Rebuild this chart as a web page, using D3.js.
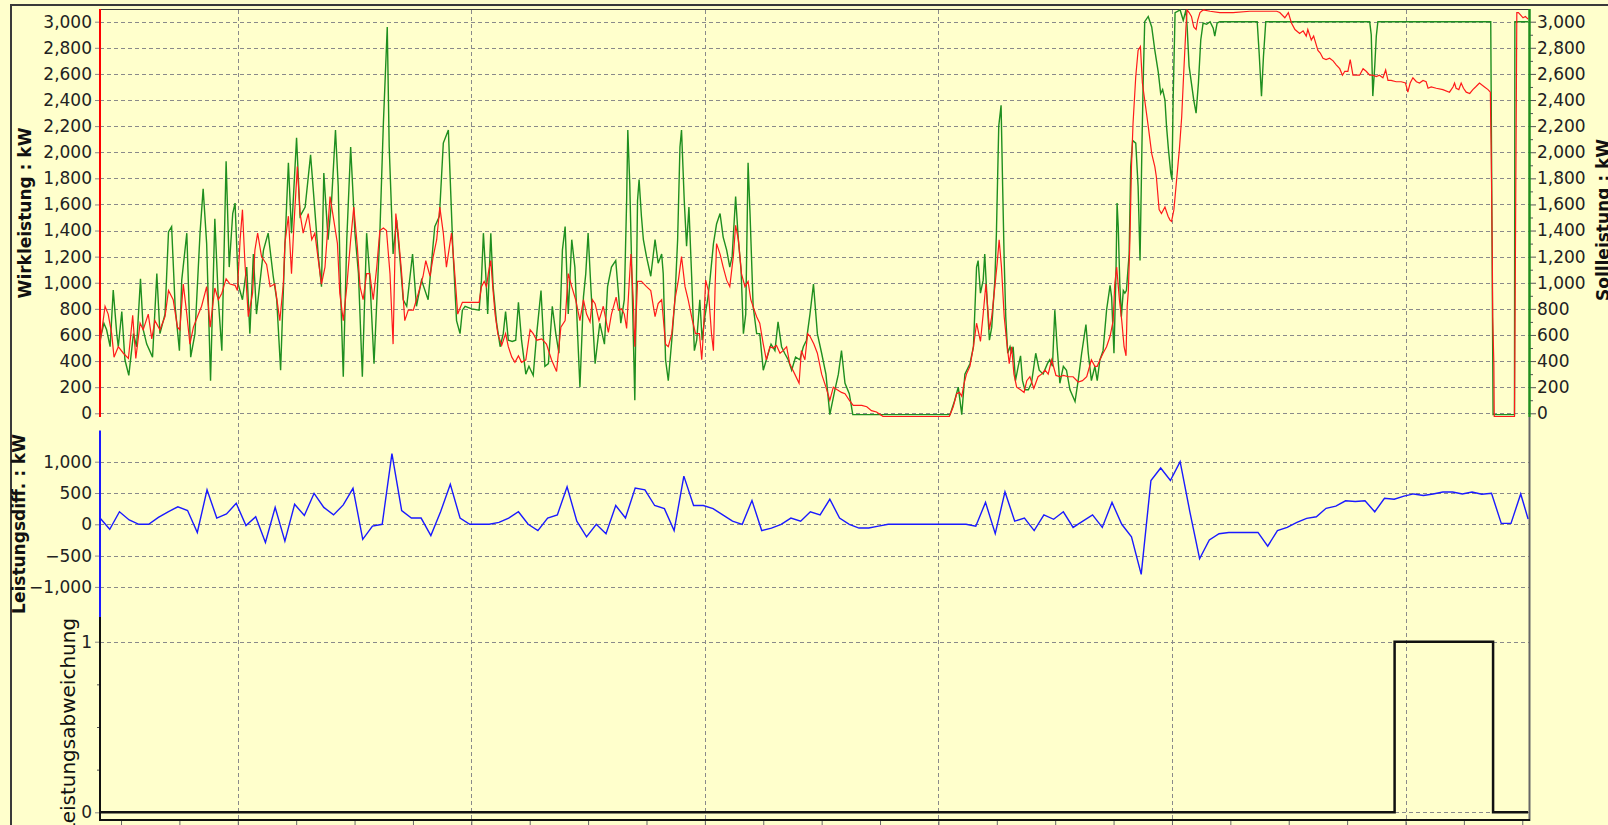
<!DOCTYPE html>
<html>
<head>
<meta charset="utf-8">
<script src="https://cdn.jsdelivr.net/npm/d3@7"></script>
<style>
    html, body { margin: 0; padding: 0; background: #FFFFCC; overflow: hidden; }
    svg { display: block; }
</style>
</head>
<body>
<div id="chart"></div>
<script>
/*** DATEN - Zeit in Minuten ab 08:24:36 ***/

// Sollleistung (gruen), kW
var sollT = [0, 1.0, 1.7, 2.6, 3.4, 4.3, 4.7, 5.6, 6.4, 7.4, 8.6, 9.4, 10.4, 11.1, 12.0, 13.5, 14.6, 15.4, 16.7, 17.6, 18.4, 19.3, 20.4, 21.0, 22.3, 23.3, 24.4, 25.7, 26.5, 27.4, 28.4, 29.5, 30.4, 31.3, 32.4, 33.2, 34.1, 34.7, 35.5, 36.6, 37.7, 38.5, 39.4, 40.2, 42.0, 43.2, 44.5, 45.4, 46.4, 47.5, 48.4, 49.2, 50.5, 51.4, 52.7, 54.1, 54.8, 56.1, 56.9, 57.5, 58.6, 59.5, 60.5, 61.2, 61.8, 62.5, 63.4, 64.4, 65.5, 66.4, 67.4, 68.5, 69.3, 70.4, 71.9, 72.8, 73.8, 74.3, 75.3, 76.2, 77.1, 77.9, 78.8, 80.3, 81.3, 82.6, 84.3, 86.0, 87.2, 88.2, 89.5, 90.6, 91.6, 92.5, 93.1, 93.8, 95.5, 97.4, 98.0, 98.5, 99.1, 99.6, 100.4, 101.0, 101.9, 102.8, 103.6, 104.2, 104.9, 105.9, 106.8, 107.5, 108.3, 109.4, 110.2, 111.3, 112.2, 113.3, 114.3, 115.2, 116.2, 117.1, 117.9, 118.8, 119.5, 120.3, 121.2, 122.0, 122.7, 123.3, 124.2, 124.8, 125.4, 126.1, 127.2, 128.4, 129.6, 130.4, 131.4, 132.5, 133.2, 133.8, 134.7, 135.3, 135.6, 136.1, 136.7, 137.4, 138.1, 138.5, 139.1, 139.6, 140.4, 141.5, 142.6, 143.4, 144.3, 144.7, 145.3, 146.0, 146.9, 147.7, 148.4, 149.0, 149.4, 150.1, 150.7, 151.3, 152.0, 152.7, 153.3, 154.1, 154.7, 155.4, 156.1, 156.7, 157.6, 158.4, 159.3, 160.1, 161.0, 161.8, 162.4, 163.3, 164.0, 164.7, 165.3, 165.9, 166.5, 167.0, 167.8, 168.7, 169.5, 170.4, 171.2, 172.4, 173.4, 174.2, 175.1, 175.9, 176.8, 177.7, 178.7, 179.8, 180.7, 181.5, 182.4, 183.3, 184.3, 185.4, 186.5, 187.5, 188.8, 189.7, 190.5, 191.4, 192.5, 193.4, 218.4, 219.6, 220.5, 221.4, 222.2, 223.5, 224.4, 225.2, 225.6, 226.2, 226.9, 227.3, 227.9, 228.5, 229.1, 229.9, 230.3, 230.9, 231.5, 231.9, 232.3, 232.7, 233.2, 233.8, 234.2, 234.6, 235.2, 235.9, 236.5, 237.0, 237.6, 238.5, 239.3, 240.4, 241.3, 242.3, 243.4, 244.0, 244.7, 245.3, 245.9, 246.6, 247.5, 248.3, 249.2, 250.5, 251.3, 252.2, 253.3, 253.9, 254.7, 255.6, 256.2, 256.9, 257.7, 258.6, 259.5, 259.9, 260.5, 261.0, 261.3, 261.6, 262.0, 262.4, 262.9, 263.3, 263.7, 264.4, 264.8, 265.3, 266.1, 266.7, 267.2, 267.7, 268.0, 268.4, 269.3, 270.2, 271.0, 271.9, 272.5, 273.0, 273.6, 274.0, 274.5, 275.1, 275.4, 275.7, 276.2, 277.5, 278.3, 279.0, 279.3, 279.8, 280.4, 281.0, 281.6, 282.2, 282.8, 283.4, 284.3, 285.2, 286.0, 286.4, 287.0, 287.7, 297.3, 297.8, 298.4, 298.9, 299.5, 326.2, 326.6, 327.0, 327.5, 327.9, 328.3, 357.3, 357.9, 363.4, 363.5, 366.9];
var sollV = [560, 690, 640, 510, 945, 610, 510, 780, 410, 290, 610, 510, 1030, 640, 530, 430, 1070, 610, 760, 1390, 1430, 820, 480, 1020, 1380, 430, 610, 1380, 1720, 1300, 250, 1490, 870, 480, 1930, 1120, 1530, 1610, 990, 870, 1120, 610, 1220, 760, 1250, 1380, 1050, 870, 330, 1280, 1920, 1380, 2110, 1510, 1580, 1980, 1710, 1200, 970, 1840, 1330, 1630, 2170, 1740, 940, 280, 1330, 2040, 1380, 1070, 280, 1380, 1050, 380, 1380, 2220, 2960, 2040, 1220, 1480, 1170, 870, 820, 1220, 820, 1020, 870, 1430, 1510, 2070, 2170, 1300, 710, 610, 790, 820, 800, 790, 1020, 1380, 1070, 760, 1380, 970, 690, 510, 610, 780, 560, 550, 560, 850, 560, 300, 360, 290, 610, 940, 360, 380, 820, 610, 460, 1250, 1430, 760, 1330, 1120, 610, 200, 890, 1070, 1380, 970, 380, 690, 530, 970, 1120, 1170, 920, 690, 870, 1630, 2170, 1760, 990, 100, 1630, 1790, 1510, 1330, 1200, 1050, 1330, 1150, 1220, 1070, 410, 250, 560, 870, 1330, 2040, 2170, 1630, 1280, 1580, 1050, 480, 560, 870, 560, 740, 870, 1020, 1300, 1450, 1530, 1350, 1250, 1120, 1200, 1660, 1330, 1100, 610, 760, 1920, 1530, 820, 610, 610, 330, 410, 530, 480, 700, 510, 460, 410, 330, 430, 410, 510, 560, 760, 990, 610, 460, 300, -10, 180, 300, 480, 230, 150, -10, -10, 100, 200, -10, 300, 380, 510, 1120, 1170, 920, 1020, 1220, 870, 560, 660, 1020, 1380, 2200, 2360, 1740, 1170, 740, 460, 510, 460, 510, 250, 360, 440, 250, 180, 180, 230, 460, 330, 300, 380, 410, 360, 790, 510, 230, 360, 330, 180, 90, 250, 460, 680, 460, 250, 360, 250, 410, 480, 790, 980, 890, 460, 1050, 1610, 1430, 990, 740, 940, 920, 940, 1220, 1890, 2090, 2070, 1740, 1170, 2070, 2530, 3000, 3040, 2960, 2780, 2610, 2450, 2480, 2400, 2200, 2020, 1840, 1790, 2400, 3070, 3090, 3010, 3090, 2960, 2660, 2530, 2400, 2300, 2530, 2860, 2990, 2980, 3000, 2950, 2890, 2990, 3000, 3000, 2760, 2430, 2730, 3000, 3000, 2900, 2430, 2660, 2890, 3000, 3000, -10, -10, 3000, 3000];

// Wirkleistung (rot), kW
var wirkT = [0, 1.3, 2.1, 3.0, 3.6, 4.7, 6.0, 7.3, 8.4, 9.2, 10.3, 11.1, 12.4, 13.3, 14.1, 15.4, 16.7, 17.6, 18.8, 19.9, 20.5, 21.4, 22.3, 23.1, 24.0, 25.3, 26.1, 27.4, 28.3, 29.5, 30.4, 31.3, 32.4, 33.4, 34.7, 35.3, 36.0, 36.6, 37.2, 38.1, 39.2, 39.8, 40.5, 41.5, 42.8, 43.7, 44.9, 46.2, 47.1, 47.5, 48.4, 49.2, 49.8, 50.7, 51.4, 52.2, 53.5, 54.4, 55.2, 56.1, 56.9, 57.8, 59.1, 59.9, 61.0, 61.6, 62.5, 63.4, 64.4, 65.2, 66.1, 66.8, 67.6, 68.5, 69.3, 70.2, 71.1, 71.9, 72.8, 73.6, 74.5, 75.3, 76.0, 76.6, 77.5, 78.3, 79.2, 80.5, 81.8, 83.0, 83.7, 84.8, 85.6, 86.5, 87.3, 88.2, 89.0, 90.3, 91.2, 91.9, 93.1, 95.5, 97.4, 98.0, 98.7, 99.3, 99.8, 100.4, 100.9, 101.5, 102.2, 103.2, 104.2, 104.9, 105.8, 106.6, 107.5, 108.3, 109.4, 110.5, 111.3, 112.2, 113.5, 114.7, 116.0, 117.3, 118.4, 119.5, 120.3, 121.2, 122.2, 123.3, 124.2, 125.0, 125.9, 126.5, 127.2, 128.2, 129.3, 130.6, 131.4, 132.6, 133.2, 134.0, 134.7, 135.3, 135.9, 136.4, 137.0, 137.4, 138.1, 139.1, 140.4, 141.5, 142.6, 143.4, 144.3, 145.3, 146.0, 146.9, 147.7, 148.6, 149.4, 150.3, 151.1, 152.2, 153.0, 154.0, 154.6, 155.0, 155.6, 156.3, 157.1, 157.6, 158.0, 158.4, 159.3, 160.1, 161.0, 161.8, 162.7, 163.3, 164.0, 164.8, 165.7, 166.5, 167.2, 168.1, 168.7, 169.5, 170.4, 171.2, 172.1, 172.9, 173.8, 174.7, 175.5, 176.4, 177.2, 178.5, 179.6, 180.2, 181.1, 181.8, 182.4, 183.4, 184.3, 185.4, 186.5, 187.5, 188.4, 189.4, 190.5, 191.4, 192.5, 193.5, 195.7, 197.0, 198.2, 199.5, 201.2, 218.2, 219.2, 220.1, 220.8, 221.4, 222.0, 222.6, 223.5, 224.4, 225.2, 226.2, 226.9, 227.6, 228.5, 229.1, 229.9, 230.5, 231.0, 231.6, 232.3, 232.9, 233.6, 234.2, 234.8, 235.5, 236.5, 237.4, 238.1, 238.9, 239.9, 241.0, 241.9, 242.8, 243.6, 244.5, 245.6, 246.6, 247.5, 248.8, 250.0, 251.3, 252.4, 253.5, 254.7, 255.6, 256.2, 256.9, 257.7, 258.6, 259.5, 260.3, 260.7, 261.2, 261.9, 262.5, 263.1, 263.6, 263.9, 264.2, 264.6, 265.0, 265.4, 266.1, 266.7, 267.3, 267.8, 268.4, 269.3, 270.2, 271.0, 271.4, 272.1, 272.7, 273.6, 274.4, 274.9, 275.3, 275.9, 276.6, 277.3, 277.9, 278.3, 278.7, 279.0, 279.3, 279.8, 280.4, 281.0, 281.6, 282.0, 282.6, 283.4, 285.2, 287.7, 291.1, 295.4, 299.7, 302.3, 303.1, 304.4, 305.3, 306.1, 307.0, 308.2, 309.1, 309.9, 310.3, 311.2, 311.8, 312.3, 312.9, 313.5, 314.2, 315.0, 315.9, 316.8, 317.6, 318.5, 319.2, 319.8, 320.6, 321.2, 321.9, 322.8, 323.6, 324.5, 325.3, 326.2, 327.0, 327.9, 328.7, 329.6, 330.3, 330.9, 331.7, 333.0, 334.3, 335.4, 336.0, 336.6, 337.3, 338.2, 339.0, 339.9, 340.7, 341.2, 342.0, 343.3, 345.0, 346.7, 347.6, 348.0, 348.4, 349.1, 349.7, 350.3, 351.0, 351.9, 352.7, 353.4, 354.4, 355.7, 356.6, 357.2, 357.3, 357.4, 357.7, 357.8, 358.1, 358.2, 363.4, 363.5, 363.7, 364.0, 364.4, 365.0, 365.6, 366.2, 366.9];
var wirkV = [530, 820, 760, 610, 430, 510, 460, 420, 750, 420, 690, 640, 760, 570, 710, 640, 740, 940, 870, 660, 640, 990, 760, 530, 660, 760, 820, 970, 660, 960, 870, 920, 1030, 990, 980, 940, 1330, 1560, 1170, 740, 920, 1250, 1380, 1200, 1140, 970, 990, 710, 990, 1300, 1510, 1070, 1430, 1890, 1530, 1380, 1530, 1330, 1380, 1170, 990, 1120, 1660, 1510, 1300, 920, 710, 970, 1330, 1580, 1280, 970, 870, 1070, 1070, 870, 1120, 1400, 1420, 1400, 1070, 530, 1530, 1380, 1070, 710, 790, 790, 920, 1050, 1170, 1050, 1200, 1330, 1580, 1380, 1120, 1380, 1050, 760, 850, 850, 850, 970, 1010, 970, 1080, 1170, 970, 760, 610, 520, 610, 510, 430, 390, 440, 390, 410, 640, 610, 560, 570, 530, 410, 320, 660, 710, 1070, 970, 870, 710, 870, 760, 700, 870, 840, 710, 820, 620, 760, 890, 790, 800, 760, 650, 970, 1220, 870, 510, 1010, 1010, 970, 940, 740, 840, 870, 530, 510, 610, 870, 1020, 1200, 970, 870, 710, 610, 610, 410, 610, 1020, 940, 610, 480, 940, 1300, 1220, 1120, 1020, 970, 1200, 1440, 1330, 1070, 970, 1010, 870, 790, 740, 690, 530, 410, 510, 500, 520, 460, 480, 510, 380, 300, 230, 480, 410, 610, 590, 530, 460, 300, 200, 100, 200, 180, 160, 150, 100, 60, 60, 50, 20, 10, -25, -25, 50, 150, 160, 130, 230, 300, 360, 510, 690, 550, 760, 990, 640, 740, 970, 1150, 1330, 1120, 740, 560, 380, 510, 300, 200, 180, 160, 250, 280, 190, 280, 300, 330, 300, 410, 290, 280, 290, 280, 280, 240, 250, 280, 410, 360, 360, 410, 460, 510, 590, 710, 990, 1120, 870, 710, 510, 440, 820, 940, 1330, 1890, 2220, 2580, 2780, 2810, 2530, 2400, 2200, 1990, 1890, 1810, 1560, 1530, 1580, 1510, 1480, 1470, 1560, 1790, 2020, 2270, 2530, 2780, 2960, 3090, 3070, 3040, 2960, 2940, 3010, 3070, 3090, 3080, 3070, 3070, 3080, 3080, 3080, 3070, 3030, 3070, 2990, 2940, 2910, 2930, 2890, 2940, 2860, 2890, 2840, 2780, 2760, 2720, 2710, 2720, 2700, 2670, 2640, 2590, 2620, 2620, 2710, 2590, 2590, 2590, 2640, 2620, 2590, 2590, 2580, 2590, 2570, 2630, 2550, 2550, 2540, 2540, 2530, 2460, 2530, 2570, 2540, 2530, 2550, 2540, 2490, 2500, 2490, 2480, 2460, 2500, 2530, 2490, 2480, 2530, 2490, 2460, 2450, 2480, 2500, 2530, 2500, 2480, 2460, 2230, 2050, 1210, 740, 380, -25, -25, 480, 1550, 3070, 3070, 3050, 3030, 3040, 3020];

// Leistungsdifferenz (blau), kW - ein Wert alle 2,5 min, letzter Wert am Ende
var diffSchritt = 2.5;
var diffV = [100, -80, 200, 70, 0, 0, 110, 200, 280, 220,
    -130, 550, 100, 165, 335, -20, 120, -290, 270, -270,
    320, 140, 495, 270, 150, 310, 575, -240, -30, 0,
    1130, 220, 100, 100, -180, 200, 640, 100, 0, 0,
    0, 30, 100, 200, 0, -100, 100, 150, 600, 50,
    -200, 0, -150, 300, 100, 580, 550, 300, 250, -100,
    770, 300, 300, 250, 150, 50, 0, 380, -100, -60,
    0, 100, 50, 200, 150, 400, 100, 0, -60, -60,
    -30, 0, 0, 0, 0, 0, 0, 0, 0, 0,
    -30, 350, -150, 520, 50, 100, -100, 150, 80, 200,
    -50, 50, 150, -50, 350, 0, -200, -800, 700, 900,
    700, 1000, 200, -550, -250, -150, -130, -130, -130, -130,
    -350, -100, -50, 30, 95, 120, 255, 290, 375, 365,
    375, 200, 415, 400, 450, 485, 460, 485, 515, 515,
    485, 515, 480, 495, 15, 15, 485, 85];
var diffEnde = 366.9;

// Leistungsabweichung (schwarz), 0/1 Stufen
var abwT = [0, 332.6, 357.9, 366.9];
var abwV = [0, 1, 0, 0];

// Achsenwerte
var wirkTicks = d3.range(0, 3001, 200);
var diffTicks = [-1000, -500, 0, 500, 1000];
var abwTicks = [0, 1];

/*** SKALEN ***/
var width = 1608, height = 825;
var start = new Date(2020, 0, 1, 8, 24, 36);
function zeit(m) { return new Date(start.getTime() + m * 60000); }

var x = d3.scaleTime().domain([zeit(0), zeit(367)]).range([100, 1528.5]);
var yTop = d3.scaleLinear().domain([-30, 3100]).range([417.2, 8.65]);
var yMid = d3.scaleLinear().domain([-1500, 1500]).range([618.2, 430.4]);
var yBot = d3.scaleLinear().domain([0, 1]).range([812.3, 641.7]);

var font = 'DejaVu Sans';
var gruen = '#1f8f1f';

var svg = d3.select('#chart').append('svg')
    .attr('width', width)
    .attr('height', height);

svg.append('rect').attr('width', width).attr('height', height).attr('fill', '#FFFFCC');

// Rahmen aussen
svg.append('path').attr('d', 'M11,825V5H1608').attr('fill', 'none').attr('stroke', '#3a3a3a').attr('stroke-width', 2);
svg.append('line').attr('x1', 100).attr('x2', 1530).attr('y1', 9.5).attr('y2', 9.5).attr('stroke', '#3a3a3a');

/*** GITTER ***/
var grid = svg.append('g')
    .attr('stroke', '#8a8a8a')
    .attr('stroke-dasharray', '4,3')
    .attr('fill', 'none');

var stunden = x.ticks(d3.timeHour.every(1));
grid.selectAll('line.v').data(stunden).enter().append('line')
    .attr('class', 'v')
    .attr('x1', d => Math.round(x(d)) + 0.5).attr('x2', d => Math.round(x(d)) + 0.5)
    .attr('y1', 10).attr('y2', 827);

function hLinien(werte, y, cls) {
    grid.selectAll('line.' + cls).data(werte).enter().append('line')
        .attr('class', cls)
        .attr('x1', 100).attr('x2', 1529)
        .attr('y1', d => Math.round(y(d)) + 0.5).attr('y2', d => Math.round(y(d)) + 0.5);
}
hLinien(wirkTicks, yTop, 'h1');
hLinien(diffTicks, yMid, 'h2');
hLinien(abwTicks, yBot, 'h3');

/*** ACHSEN ***/
function achse(g, farbe) {
    g.select('.domain').remove();
    g.attr('font-family', font).attr('font-size', 17);
    g.selectAll('text').attr('fill', '#222');
    g.selectAll('.tick line').attr('stroke', farbe);
}

var fmt = d3.format(',');

svg.append('g').attr('transform', 'translate(100,0)')
    .call(d3.axisLeft(yTop).tickValues(wirkTicks).tickFormat(fmt).tickSize(5).tickPadding(3))
    .call(g => achse(g, '#8a8a8a'));
svg.append('g').attr('transform', 'translate(1529,0)')
    .call(d3.axisRight(yTop).tickValues(wirkTicks).tickFormat(fmt).tickSize(7).tickPadding(1))
    .call(g => achse(g, '#555'));
// kleine Striche rechts (alle 100)
svg.append('g').attr('transform', 'translate(1529,0)')
    .call(d3.axisRight(yTop).tickValues(d3.range(100, 3000, 200)).tickFormat('').tickSize(4))
    .call(g => achse(g, '#555'));
svg.append('g').attr('transform', 'translate(100,0)')
    .call(d3.axisLeft(yMid).tickValues(diffTicks).tickFormat(fmt).tickSize(5).tickPadding(3))
    .call(g => achse(g, '#8a8a8a'));
svg.append('g').attr('transform', 'translate(100,0)')
    .call(d3.axisLeft(yBot).tickValues(abwTicks).tickFormat(d3.format('d')).tickSize(5).tickPadding(3))
    .call(g => achse(g, '#8a8a8a'));
svg.append('g').attr('transform', 'translate(100,0)')
    .call(d3.axisLeft(yBot).tickValues([0.25, 0.5, 0.75]).tickFormat('').tickSize(3))
    .call(g => achse(g, '#555'));

// Zeitachse unten (Beschriftung liegt ausserhalb des Bildes)
svg.append('g').attr('transform', 'translate(0,820)')
    .call(d3.axisBottom(x).ticks(d3.timeMinute.every(15)).tickFormat('').tickSize(6))
    .call(g => achse(g, '#666'));

// farbige Achslinien
svg.append('line').attr('x1', 100).attr('x2', 100).attr('y1', 9).attr('y2', 417).attr('stroke', '#ff0000').attr('stroke-width', 2);
svg.append('line').attr('x1', 1529.5).attr('x2', 1529.5).attr('y1', 9).attr('y2', 417).attr('stroke', gruen).attr('stroke-width', 2.5);
svg.append('line').attr('x1', 1529.5).attr('x2', 1529.5).attr('y1', 417).attr('y2', 821).attr('stroke', '#666').attr('stroke-width', 2);
svg.append('line').attr('x1', 100).attr('x2', 100).attr('y1', 430.5).attr('y2', 617).attr('stroke', '#1a1aff').attr('stroke-width', 2);
svg.append('line').attr('x1', 100).attr('x2', 100).attr('y1', 617).attr('y2', 821).attr('stroke', '#111').attr('stroke-width', 2);
svg.append('line').attr('x1', 100).attr('x2', 1530).attr('y1', 820).attr('y2', 820).attr('stroke', '#111').attr('stroke-width', 2);

/*** KURVEN ***/
svg.append('clipPath').attr('id', 'clipTop')
    .append('rect').attr('x', 100).attr('y', 9).attr('width', 1429).attr('height', 408);

var linieTop = d3.line()
    .x(d => x(zeit(d[0])))
    .y(d => yTop(d[1]));

var soll = sollT.map((t, i) => [t, sollV[i]]);
var wirk = wirkT.map((t, i) => [t, wirkV[i]]);

svg.append('path').datum(soll)
    .attr('clip-path', 'url(#clipTop)')
    .attr('d', linieTop)
    .attr('fill', 'none')
    .attr('stroke', gruen)
    .attr('stroke-width', 1.4);

svg.append('path').datum(wirk)
    .attr('clip-path', 'url(#clipTop)')
    .attr('d', linieTop)
    .attr('fill', 'none')
    .attr('stroke', '#ff1a1a')
    .attr('stroke-width', 1.2);

var diff = diffV.map((v, i) => [i == diffV.length - 1 ? diffEnde : i * diffSchritt, v]);
svg.append('path').datum(diff)
    .attr('d', d3.line().x(d => x(zeit(d[0]))).y(d => yMid(d[1])))
    .attr('fill', 'none')
    .attr('stroke', '#1a1aff')
    .attr('stroke-width', 1.4);

var abw = abwT.map((t, i) => [t, abwV[i]]);
svg.append('path').datum(abw)
    .attr('d', d3.line().curve(d3.curveStepAfter).x(d => x(zeit(d[0]))).y(d => yBot(d[1])))
    .attr('fill', 'none')
    .attr('stroke', '#111')
    .attr('stroke-width', 2.5);

/*** ACHSENTITEL ***/
function titel(tx, ty, text, gewicht, groesse) {
    svg.append('text')
        .attr('transform', 'translate(' + tx + ',' + ty + ') rotate(-90)')
        .attr('text-anchor', 'middle')
        .attr('font-family', font)
        .attr('font-size', groesse)
        .attr('font-weight', gewicht)
        .attr('fill', '#111')
        .text(text);
}
titel(31, 213, 'Wirkleistung : kW', 'bold', 17);
titel(25, 524, 'Leistungsdiff. : kW', 'bold', 17);
titel(75, 726, 'Leistungsabweichung', 'normal', 20);
titel(1609, 220, 'Sollleistung : kW', 'bold', 17);
</script>
</body>
</html>
